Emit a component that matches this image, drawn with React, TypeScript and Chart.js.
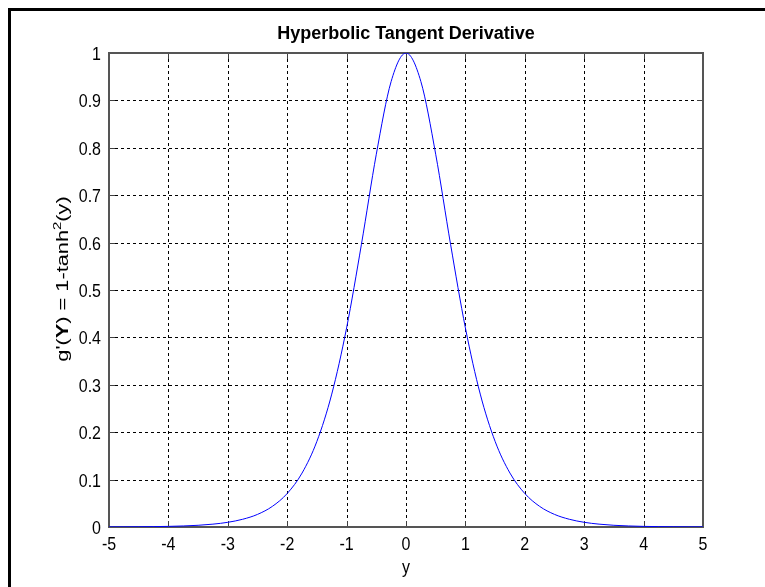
import React, { useEffect, useRef } from "react";
import { Chart, registerables } from "chart.js";

Chart.register(...registerables);

const titleText = "Hyperbolic Tangent Derivative";
const xLabel = "y";
const xTicks = [-5, -4, -3, -2, -1, 0, 1, 2, 3, 4, 5];
const xTickLabels = ["-5", "-4", "-3", "-2", "-1", "0", "1", "2", "3", "4", "5"];
const yTicks = [0, 0.1, 0.2, 0.3, 0.4, 0.5, 0.6, 0.7, 0.8, 0.9, 1];
const yTickLabels = ["0", "0.1", "0.2", "0.3", "0.4", "0.5", "0.6", "0.7", "0.8", "0.9", "1"];

const xValues = [
  -5, -4.75, -4.5, -4.25, -4, -3.75, -3.5, -3.25, -3, -2.75, -2.5, -2.25, -2, -1.75, -1.5, -1.25, -1, -0.75, -0.5, -0.25,
  0, 0.25, 0.5, 0.75, 1, 1.25, 1.5, 1.75, 2, 2.25, 2.5, 2.75, 3, 3.25, 3.5, 3.75, 4, 4.25, 4.5, 4.75, 5,
];
const gValues = [
  0.0002, 0.0003, 0.0005, 0.0008, 0.0013, 0.0022, 0.0036, 0.006, 0.0099, 0.0163, 0.0266, 0.0435, 0.0707, 0.1138, 0.1807, 0.2804, 0.42, 0.5966, 0.7864, 0.94,
  1, 0.94, 0.7864, 0.5966, 0.42, 0.2804, 0.1807, 0.1138, 0.0707, 0.0435, 0.0266, 0.0163, 0.0099, 0.006, 0.0036, 0.0022, 0.0013, 0.0008, 0.0005, 0.0003, 0.0002,
];

const W = 765;
const H = 587;
const FONT = '"Liberation Sans", Arial, sans-serif';
const STRETCH = 1.2;
const LABEL_STRETCH = 1.36;

function stretchedText(ctx: any, text: string, x: number, baseline: number, align: string) {
  ctx.save();
  ctx.translate(x, baseline);
  ctx.scale(1, STRETCH);
  ctx.textAlign = align;
  ctx.textBaseline = "alphabetic";
  ctx.fillText(text, 0, 0);
  ctx.restore();
}

const decorPlugin = {
  id: "decor",
  beforeDatasetsDraw(chart: any) {
    const { ctx, chartArea } = chart;
    const xs = chart.scales.x;
    const ys = chart.scales.y;
    const { left, right, top, bottom } = chartArea;
    ctx.save();
    ctx.strokeStyle = "#000";
    ctx.lineWidth = 1;
    ctx.setLineDash([3, 3]);
    for (const v of xTicks) {
      const px = Math.round(xs.getPixelForValue(v)) + 0.5;
      ctx.beginPath();
      ctx.moveTo(px, top);
      ctx.lineTo(px, bottom);
      ctx.stroke();
    }
    for (const v of yTicks) {
      const py = Math.round(ys.getPixelForValue(v)) + 0.5;
      ctx.beginPath();
      ctx.moveTo(left, py);
      ctx.lineTo(right, py);
      ctx.stroke();
    }
    ctx.setLineDash([]);
    ctx.strokeStyle = "#404040";
    const tl = 6;
    for (const v of xTicks) {
      const px = Math.round(xs.getPixelForValue(v)) + 0.5;
      ctx.beginPath();
      ctx.moveTo(px, bottom);
      ctx.lineTo(px, bottom - tl);
      ctx.moveTo(px, top);
      ctx.lineTo(px, top + tl);
      ctx.stroke();
    }
    for (const v of yTicks) {
      const py = Math.round(ys.getPixelForValue(v)) + 0.5;
      ctx.beginPath();
      ctx.moveTo(left, py);
      ctx.lineTo(left + tl, py);
      ctx.moveTo(right, py);
      ctx.lineTo(right - tl, py);
      ctx.stroke();
    }
    ctx.strokeStyle = "#555";
    ctx.lineWidth = 2;
    ctx.strokeRect(left, top, right - left, bottom - top);

    ctx.fillStyle = "#000";
    ctx.font = `16px ${FONT}`;
    xTicks.forEach((v, i) => {
      stretchedText(ctx, xTickLabels[i], xs.getPixelForValue(v), 550, "center");
    });
    yTicks.forEach((v, i) => {
      stretchedText(ctx, yTickLabels[i], left - 8, ys.getPixelForValue(v) + 7, "right");
    });
    ctx.restore();
  },
  afterDraw(chart: any) {
    const { ctx, chartArea } = chart;
    ctx.save();
    ctx.fillStyle = "#000";
    ctx.fillRect(8, 8, 3, H);
    ctx.fillRect(8, 8, W, 3);
    const cx = (chartArea.left + chartArea.right) / 2;
    ctx.font = `bold 18px ${FONT}`;
    ctx.textAlign = "center";
    ctx.textBaseline = "middle";
    ctx.fillText(titleText, cx, 34);
    ctx.font = `16px ${FONT}`;
    stretchedText(ctx, xLabel, cx, 573, "center");

    const segs = [
      { t: "g'(", f: `16px ${FONT}`, dy: 0 },
      { t: "Y", f: `bold 16px ${FONT}`, dy: 0 },
      { t: ") = 1-tanh", f: `16px ${FONT}`, dy: 0 },
      { t: "2", f: `11px ${FONT}`, dy: -7 },
      { t: "(y)", f: `16px ${FONT}`, dy: 0 },
    ];
    let total = 0;
    const widths: number[] = [];
    for (const s of segs) {
      ctx.font = s.f;
      const w = ctx.measureText(s.t).width;
      widths.push(w);
      total += w;
    }
    ctx.translate(68, 279);
    ctx.rotate(-Math.PI / 2);
    ctx.scale(LABEL_STRETCH, 1);
    ctx.textAlign = "left";
    ctx.textBaseline = "alphabetic";
    let x = -total / 2;
    segs.forEach((s, i) => {
      ctx.font = s.f;
      ctx.fillText(s.t, x, s.dy);
      x += widths[i];
    });
    ctx.restore();
  },
};

export default function App() {
  const ref = useRef<HTMLCanvasElement | null>(null);
  useEffect(() => {
    if (!ref.current) return;
    const chart = new Chart(ref.current, {
      type: "line",
      data: {
        datasets: [
          {
            data: xValues.map((x, i) => ({ x, y: gValues[i] })),
            borderColor: "#0000ff",
            borderWidth: 1,
            pointRadius: 0,
            cubicInterpolationMode: "monotone",
            fill: false,
          },
        ],
      },
      options: {
        responsive: false,
        animation: false,
        events: [],
        layout: { padding: { left: 0, top: 53, right: 62, bottom: 0 } },
        plugins: { legend: { display: false }, title: { display: false }, tooltip: { enabled: false } },
        scales: {
          x: {
            type: "linear",
            min: -5,
            max: 5,
            grid: { display: false },
            border: { display: false },
            afterBuildTicks: (s: any) => {
              s.ticks = xTicks.map((v) => ({ value: v }));
            },
            afterFit: (s: any) => {
              s.height = 60;
            },
            ticks: { display: false },
          },
          y: {
            type: "linear",
            min: 0,
            max: 1,
            grid: { display: false },
            border: { display: false },
            afterBuildTicks: (s: any) => {
              s.ticks = yTicks.map((v) => ({ value: v }));
            },
            afterFit: (s: any) => {
              s.width = 109;
            },
            ticks: { display: false },
          },
        },
      },
      plugins: [decorPlugin],
    } as any);
    return () => chart.destroy();
  }, []);
  return (
    <div style={{ position: "fixed", left: 0, top: 0, width: W, height: H, background: "#fff" }}>
      <canvas ref={ref} width={W} height={H} style={{ width: W, height: H, display: "block" }} />
    </div>
  );
}
